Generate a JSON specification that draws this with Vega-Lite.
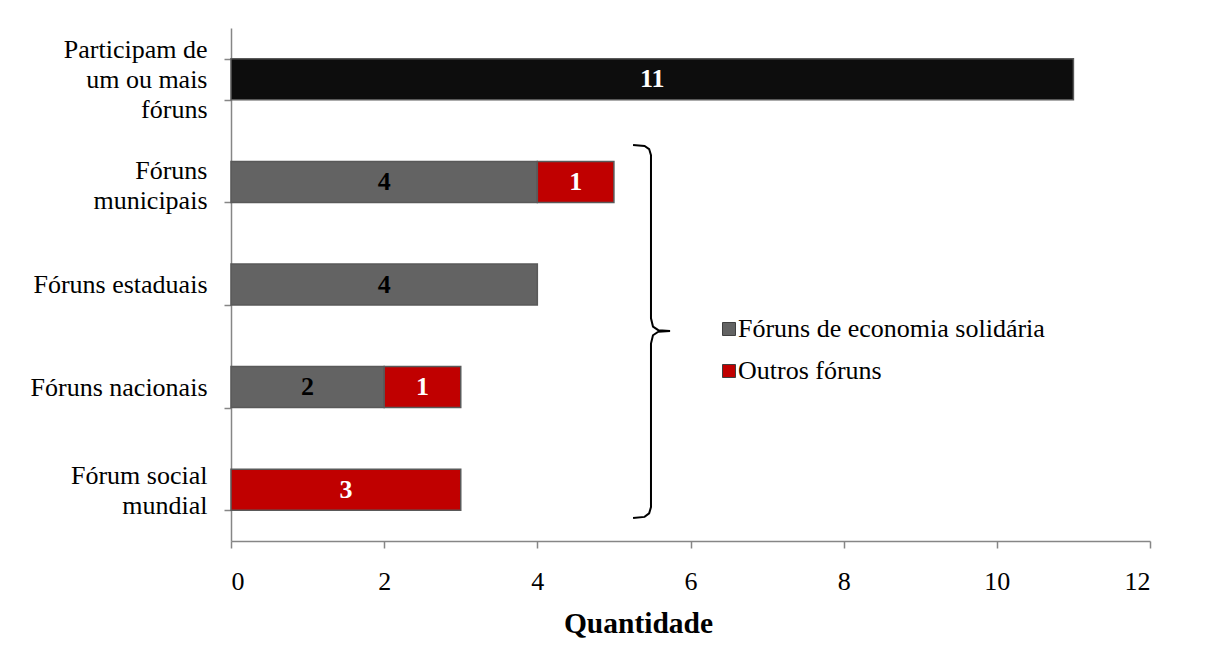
{
  "$schema": "https://vega.github.io/schema/vega-lite/v6.json",
  "width": 919,
  "height": 513,
  "autosize": "none",
  "padding": {"left": 231, "top": 28, "right": 82, "bottom": 116},
  "background": "white",
  "config": {
    "font": "Liberation Serif",
    "view": {"stroke": null},
    "axis": {
      "domainColor": "#868686",
      "domainWidth": 1.5,
      "tickColor": "#868686",
      "tickWidth": 1.5,
      "tickSize": 7,
      "grid": false,
      "labelFont": "Liberation Serif",
      "labelFontSize": 26,
      "labelColor": "black",
      "titleFont": "Liberation Serif",
      "titleColor": "black"
    },
    "axisX": {
      "labelPadding": 20,
      "titleFontSize": 29.5,
      "titleFontWeight": "bold",
      "titleX": 407,
      "titleY": 82,
      "titleBaseline": "middle",
      "titleAlign": "center"
    },
    "axisY": {
      "labelPadding": 17,
      "tickBand": "extent",
      "labelLineHeight": 30,
      "labelAlign": "right",
      "labelBaseline": "middle"
    },
    "legend": {
      "labelFont": "Liberation Serif",
      "labelFontSize": 26,
      "labelColor": "black",
      "labelLimit": 500
    }
  },
  "layer": [
    {
      "data": {
        "values": [
          {"cat": "Participam de um ou mais fóruns", "serie": "Total", "v": 11},
          {"cat": "Fóruns municipais", "serie": "Fóruns de economia solidária", "v": 4},
          {"cat": "Fóruns municipais", "serie": "Outros fóruns", "v": 1},
          {"cat": "Fóruns estaduais", "serie": "Fóruns de economia solidária", "v": 4},
          {"cat": "Fóruns nacionais", "serie": "Fóruns de economia solidária", "v": 2},
          {"cat": "Fóruns nacionais", "serie": "Outros fóruns", "v": 1},
          {"cat": "Fórum social mundial", "serie": "Outros fóruns", "v": 3}
        ]
      },
      "encoding": {
        "y": {
          "field": "cat",
          "type": "nominal",
          "scale": {
            "domain": ["Participam de um ou mais fóruns", "Fóruns municipais", "Fóruns estaduais", "Fóruns nacionais", "Fórum social mundial"],
            "paddingInner": 0.6,
            "paddingOuter": 0.3
          },
          "axis": {
            "title": null,
            "labelExpr": "datum.value == 'Participam de um ou mais fóruns' ? ['Participam de', 'um ou mais', 'fóruns'] : datum.value == 'Fóruns municipais' ? ['Fóruns', 'municipais'] : datum.value == 'Fórum social mundial' ? ['Fórum social', 'mundial'] : datum.value",
            "labelOffset": {"expr": "datum.value == 'Participam de um ou mais fóruns' ? -30 : datum.value == 'Fóruns municipais' ? -11 : datum.value == 'Fórum social mundial' ? -14 : 0"}
          }
        }
      },
      "layer": [
        {
          "mark": {"type": "bar", "stroke": "#595959", "strokeWidth": 1.5},
          "encoding": {
            "x": {
              "field": "v",
              "type": "quantitative",
              "stack": "zero",
              "scale": {"domain": [0, 12], "nice": false},
              "axis": {"title": "Quantidade", "values": [0, 2, 4, 6, 8, 10, 12]}
            },
            "color": {
              "field": "serie",
              "type": "nominal",
              "scale": {
                "domain": ["Total", "Fóruns de economia solidária", "Outros fóruns"],
                "range": ["#0d0d0d", "#636363", "#c00000"]
              },
              "legend": {
                "title": null,
                "values": ["Fóruns de economia solidária", "Outros fóruns"],
                "orient": "none",
                "legendX": 485,
                "legendY": 288,
                "symbolType": "square",
                "symbolSize": 169,
                "symbolStrokeColor": "#404040",
                "symbolStrokeWidth": 1,
                "labelOffset": -4,
                "rowPadding": 16
              }
            },
            "order": {"field": "serie", "sort": "ascending"}
          }
        },
        {
          "mark": {"type": "text", "fontWeight": "bold", "fontSize": 26, "baseline": "middle", "align": "center", "font": "Liberation Serif"},
          "encoding": {
            "x": {
              "field": "v",
              "type": "quantitative",
              "stack": "zero",
              "bandPosition": 0.5,
              "scale": {"domain": [0, 12], "nice": false},
              "axis": {"title": "Quantidade", "values": [0, 2, 4, 6, 8, 10, 12]}
            },
            "detail": {"field": "serie"},
            "order": {"field": "serie", "sort": "ascending"},
            "text": {"field": "v", "type": "quantitative"},
            "color": {
              "condition": {"test": "datum.serie == 'Fóruns de economia solidária'", "value": "black"},
              "value": "white"
            }
          }
        }
      ]
    },
    {
      "data": {
        "values": [
          {"p": 1, "v": 5.25, "q": 3.86},
          {"p": 2, "v": 5.40, "q": 3.85},
          {"p": 3, "v": 5.46, "q": 3.82},
          {"p": 4, "v": 5.484, "q": 3.76},
          {"p": 5, "v": 5.484, "q": 2.17},
          {"p": 6, "v": 5.51, "q": 2.09},
          {"p": 7, "v": 5.58, "q": 2.055},
          {"p": 8, "v": 5.733, "q": 2.047},
          {"p": 9, "v": 5.58, "q": 2.04},
          {"p": 10, "v": 5.51, "q": 2.005},
          {"p": 11, "v": 5.484, "q": 1.925},
          {"p": 12, "v": 5.484, "q": 0.33},
          {"p": 13, "v": 5.46, "q": 0.27},
          {"p": 14, "v": 5.40, "q": 0.235},
          {"p": 15, "v": 5.25, "q": 0.224}
        ]
      },
      "mark": {"type": "line", "color": "black", "strokeWidth": 2},
      "encoding": {
        "x": {
          "field": "v",
          "type": "quantitative",
          "scale": {"domain": [0, 12], "nice": false},
          "axis": {"title": "Quantidade", "values": [0, 2, 4, 6, 8, 10, 12]}
        },
        "y": {
          "field": "q",
          "type": "quantitative",
          "scale": {"domain": [0, 5], "nice": false, "zero": false},
          "axis": null
        },
        "order": {"field": "p", "type": "quantitative"}
      }
    }
  ],
  "resolve": {"scale": {"y": "independent"}}
}
